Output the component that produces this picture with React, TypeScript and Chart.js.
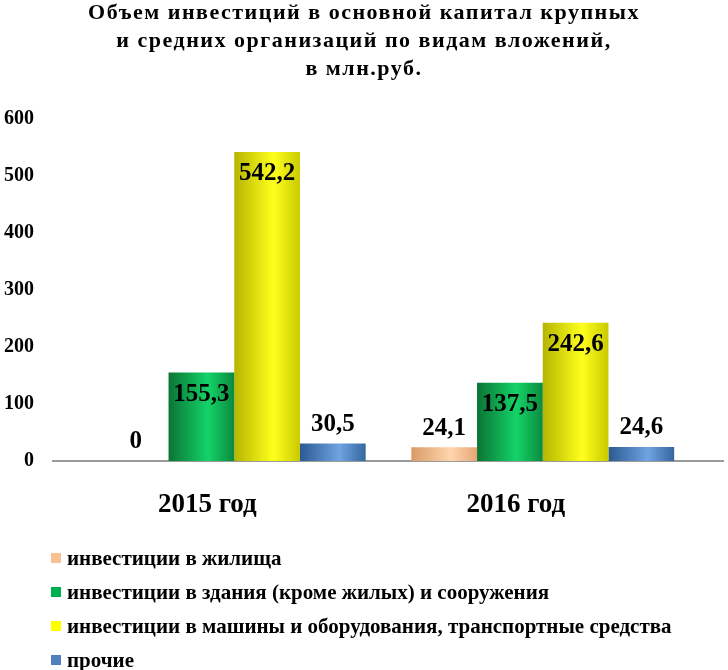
import React, { useEffect, useRef } from 'react';
import { Chart, registerables } from 'chart.js';

Chart.register(...registerables);

const TITLE_LINES = [
  'Объем инвестиций в основной капитал крупных',
  'и средних организаций по видам вложений,',
  'в млн.руб.',
];
const CATEGORIES = ['2015 год', '2016 год'];
const SERIES_NAMES = [
  'инвестиции в жилища',
  'инвестиции в здания (кроме жилых) и сооружения',
  'инвестиции в машины и оборудования, транспортные средства',
  'прочие',
];
const HOUSING = [0, 24.1];
const BUILDINGS = [155.3, 137.5];
const MACHINERY = [542.2, 242.6];
const OTHER = [30.5, 24.6];
const Y_MIN = 0;
const Y_MAX = 600;
const Y_STEP = 100;

const LEGEND_COLORS = ['#FAC090', '#00B050', '#FFFF00', '#4F81BD'];
const SHADES: string[][] = [
  ['#d99a66', '#ffd6ae', '#e6a674'],
  ['#0a7434', '#14d368', '#0b8a3f'],
  ['#b5b500', '#ffff1e', '#c9c900'],
  ['#2c5a92', '#6fa3e2', '#35679f'],
];
const FONT = '"Liberation Serif", "Times New Roman", serif';
const CAT_PCT = 0.852;

function fmt(v: number): string {
  if (v === 0) return '0';
  return v.toFixed(1).replace('.', ',');
}

function barFill(ctx: any) {
  const chart = ctx.chart;
  const ds = ctx.datasetIndex;
  const [dark, light, edge] = SHADES[ds];
  const xs = chart.scales && chart.scales.x;
  if (!chart.chartArea || !xs || ctx.type !== 'data') return LEGEND_COLORS[ds];
  const n = chart.data.datasets.length;
  const slot = ((xs.width / chart.data.labels.length) * CAT_PCT) / n;
  const cx = xs.getPixelForValue(ctx.dataIndex) + (ds - (n - 1) / 2) * slot;
  const g = chart.ctx.createLinearGradient(cx - slot / 2, 0, cx + slot / 2, 0);
  g.addColorStop(0, dark);
  g.addColorStop(0.6, light);
  g.addColorStop(1, edge);
  return g;
}

const titlePlugin = {
  id: 'titleLines',
  afterDraw(chart: any) {
    const c = chart.ctx;
    c.save();
    c.font = `bold 22px ${FONT}`;
    try {
      (c as any).letterSpacing = '1.5px';
    } catch (e) {}
    c.fillStyle = '#000';
    c.textAlign = 'center';
    c.textBaseline = 'alphabetic';
    TITLE_LINES.forEach((t, i) => c.fillText(t, chart.width / 2, 19 + i * 28));
    c.restore();
  },
};

const axisLinePlugin = {
  id: 'axisLine',
  beforeDatasetsDraw(chart: any) {
    const { left, right, bottom } = chart.chartArea;
    const c = chart.ctx;
    c.save();
    c.strokeStyle = '#9a9a9a';
    c.lineWidth = 2;
    c.beginPath();
    c.moveTo(left - 28, bottom);
    c.lineTo(right + 27, bottom);
    c.stroke();
    c.restore();
  },
};

const labelPlugin = {
  id: 'valueLabels',
  afterDatasetsDraw(chart: any) {
    const c = chart.ctx;
    c.save();
    c.font = `bold 25px ${FONT}`;
    c.fillStyle = '#000';
    c.textAlign = 'center';
    c.textBaseline = 'middle';
    chart.data.datasets.forEach((ds: any, di: number) => {
      const meta = chart.getDatasetMeta(di);
      meta.data.forEach((el: any, i: number) => {
        const v = ds.data[i];
        const h = el.base - el.y;
        const y = h > 60 ? el.y + 22 : el.y - 19;
        c.fillText(fmt(v), el.x, y);
      });
    });
    c.restore();
  },
};

const legendPlugin = {
  id: 'vertLegend',
  afterDraw(chart: any) {
    const c = chart.ctx;
    const top = chart.chartArea.bottom + 97;
    c.save();
    c.font = `bold 21px ${FONT}`;
    c.textAlign = 'left';
    c.textBaseline = 'alphabetic';
    chart.data.datasets.forEach((ds: any, i: number) => {
      const y = top + i * 34;
      c.fillStyle = LEGEND_COLORS[i];
      c.fillRect(51, y - 5, 10, 10);
      c.fillStyle = '#000';
      c.fillText(ds.label, 67, y + 7);
    });
    c.restore();
  },
};

export default function App() {
  const ref = useRef<HTMLCanvasElement>(null);
  useEffect(() => {
    document.body.style.margin = '0';
    document.body.style.overflow = 'hidden';
    const canvas = ref.current!;
    const values = [HOUSING, BUILDINGS, MACHINERY, OTHER];
    const chart = new Chart(canvas, {
      type: 'bar',
      data: {
        labels: CATEGORIES,
        datasets: values.map((d, i) => ({
          label: SERIES_NAMES[i],
          data: d,
          backgroundColor: barFill,
          borderWidth: 0,
          categoryPercentage: CAT_PCT,
          barPercentage: 1,
        })),
      },
      options: {
        responsive: false,
        animation: false,
        layout: { padding: { top: 119, right: 31, left: 0, bottom: 0 } },
        plugins: {
          legend: { display: false },
          title: { display: false },
          tooltip: { enabled: false },
        },
        scales: {
          x: {
            grid: { display: false },
            border: { display: false },
            ticks: {
              color: '#000',
              font: { family: FONT, size: 27, weight: 'bold' },
              padding: 20,
              labelOffset: -27,
            },
            afterFit: (s: any) => {
              s.height = 209;
            },
          },
          y: {
            min: Y_MIN,
            max: Y_MAX,
            grid: { display: false },
            border: { display: false },
            ticks: {
              stepSize: Y_STEP,
              color: '#000',
              font: { family: FONT, size: 20, weight: 'bold' },
              padding: 38,
            },
            afterFit: (s: any) => {
              s.width = 80;
            },
          },
        },
      },
      plugins: [axisLinePlugin, labelPlugin, titlePlugin, legendPlugin],
    } as any);
    return () => chart.destroy();
  }, []);
  return (
    <div style={{ width: 728, height: 670, background: '#fff' }}>
      <canvas ref={ref} width={728} height={670} style={{ display: 'block' }} />
    </div>
  );
}
